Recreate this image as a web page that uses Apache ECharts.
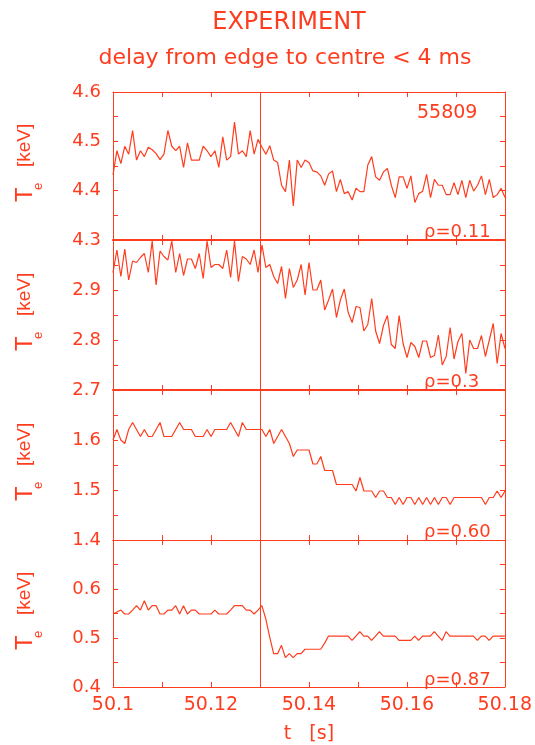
<!DOCTYPE html>
<html>
<head>
    <meta charset="utf-8">
    <title>EXPERIMENT - Te</title>
    <style>
        html, body { margin: 0; padding: 0; background: #fff; }
        #main { width: 535px; height: 745px; }
    </style>
</head>
<body>
<div id="main"></div>
<script src="https://cdn.jsdelivr.net/npm/echarts@6/dist/echarts.min.js"></script>
<script>
    // sampling of the ECE channels (s)
    var T0 = 50.1, DT = 0.0008;
    var X_MIN = 50.1, X_MAX = 50.18;
    var CRASH_T = 50.13;
    var SHOT = '55809';

    // Te [keV], one array per radius
    var te011 = [4.432,4.481,4.455,4.490,4.474,4.522,4.462,4.481,4.469,4.488,
        4.483,4.475,4.463,4.474,4.522,4.490,4.481,4.490,4.447,4.497,
        4.462,4.462,4.462,4.490,4.481,4.469,4.481,4.447,4.509,4.462,
        4.469,4.539,4.474,4.481,4.469,4.522,4.474,4.504,4.488,4.474,
        4.491,4.462,4.457,4.411,4.398,4.462,4.369,4.462,4.447,4.462,
        4.457,4.440,4.438,4.430,4.411,4.434,4.440,4.398,4.423,4.394,
        4.398,4.381,4.405,4.398,4.398,4.452,4.469,4.428,4.421,4.438,
        4.445,4.411,4.386,4.428,4.428,4.405,4.430,4.376,4.394,4.399,
        4.433,4.386,4.423,4.411,4.411,4.392,4.392,4.416,4.392,4.421,
        4.386,4.421,4.399,4.411,4.430,4.392,4.423,4.386,4.392,4.405,
        4.386];
    var te03 = [2.935,2.980,2.927,2.982,2.920,2.958,2.955,2.965,2.973,2.935,
        2.998,2.910,2.978,2.967,2.960,2.998,2.935,2.973,2.929,2.962,
        2.962,2.943,2.973,2.923,2.998,2.945,2.951,2.951,2.943,2.980,
        2.925,2.998,2.917,2.967,2.962,2.951,2.980,2.935,2.990,2.945,
        2.951,2.927,2.913,2.947,2.883,2.943,2.905,2.920,2.951,2.890,
        2.955,2.900,2.900,2.920,2.860,2.880,2.902,2.845,2.880,2.902,
        2.855,2.835,2.867,2.865,2.818,2.831,2.883,2.818,2.793,2.829,
        2.849,2.791,2.783,2.849,2.793,2.765,2.795,2.787,2.765,2.798,
        2.798,2.765,2.769,2.810,2.750,2.767,2.825,2.762,2.797,2.813,
        2.733,2.800,2.783,2.783,2.809,2.767,2.800,2.833,2.753,2.813,
        2.783];
    var te060 = [1.600,1.621,1.600,1.593,1.621,1.635,1.621,1.607,1.621,1.607,
        1.607,1.621,1.635,1.607,1.607,1.607,1.621,1.635,1.621,1.621,
        1.621,1.607,1.607,1.607,1.621,1.607,1.621,1.621,1.621,1.621,
        1.635,1.621,1.607,1.635,1.621,1.621,1.621,1.621,1.621,1.607,
        1.621,1.593,1.607,1.621,1.607,1.593,1.567,1.580,1.580,1.580,
        1.580,1.552,1.552,1.567,1.539,1.539,1.539,1.511,1.511,1.511,
        1.511,1.511,1.498,1.525,1.498,1.498,1.498,1.485,1.498,1.498,
        1.485,1.485,1.471,1.485,1.471,1.485,1.485,1.471,1.485,1.471,
        1.485,1.471,1.485,1.471,1.485,1.485,1.471,1.485,1.485,1.485,
        1.485,1.485,1.485,1.485,1.485,1.471,1.485,1.485,1.498,1.485,
        1.498];
    var te087 = [0.549,0.553,0.557,0.549,0.549,0.557,0.566,0.557,0.576,0.557,
        0.566,0.566,0.549,0.549,0.557,0.557,0.566,0.549,0.566,0.549,
        0.557,0.557,0.549,0.549,0.549,0.549,0.557,0.549,0.549,0.549,
        0.557,0.566,0.566,0.566,0.557,0.557,0.549,0.557,0.566,0.539,
        0.502,0.468,0.468,0.485,0.460,0.468,0.460,0.468,0.468,0.477,
        0.477,0.477,0.477,0.477,0.489,0.504,0.504,0.504,0.504,0.504,
        0.504,0.495,0.504,0.513,0.504,0.504,0.495,0.504,0.513,0.504,
        0.504,0.504,0.504,0.495,0.495,0.495,0.495,0.504,0.495,0.504,
        0.504,0.504,0.513,0.504,0.495,0.513,0.504,0.504,0.504,0.504,
        0.504,0.504,0.504,0.495,0.504,0.504,0.495,0.504,0.504,0.504,
        0.504];

    var panelData = [te011, te03, te060, te087];
    var rhoLabels = ['\u03c1=0.11', '\u03c1=0.3', '\u03c1=0.60', '\u03c1=0.87'];
    var yRanges = [[4.3, 4.6], [2.7, 3.0], [1.4, 1.7], [0.4, 0.7]];

    var RED = '#ff3c1e';
    var FONT = '"DejaVu Sans", sans-serif';
    var NAMEFONT = '"Liberation Sans", Arial, sans-serif';

    var grids = [
        {left: 113, right: 30, top: 92, height: 148},
        {left: 113, right: 30, top: 240, height: 150},
        {left: 113, right: 30, top: 390, height: 150},
        {left: 113, right: 30, top: 540, height: 148}
    ];

    function xAxisFor(g, pos, showLabel) {
        // the joins between panel 1/2 and 2/3 look doubled in the original
        var w = (pos === 'bottom' && g < 2) ? 2 : 1;
        return {
            type: 'value', gridIndex: g, position: pos,
            min: X_MIN, max: X_MAX, interval: 0.01,
            axisLine: {show: true, onZero: false, lineStyle: {color: RED, width: w}},
            axisTick: {show: true, inside: true, length: 5, lineStyle: {color: RED}},
            axisLabel: {
                show: showLabel, color: RED, fontFamily: FONT, fontSize: 19, margin: 9,
                formatter: function (v) {
                    var k = Math.round(v * 100);
                    return k % 2 === 0 ? String(k / 100) : '';
                }
            },
            splitLine: {show: false},
            name: showLabel ? 't   [s]' : '',
            nameLocation: 'middle', nameGap: 38,
            nameTextStyle: {color: RED, fontFamily: FONT, fontSize: 19}
        };
    }

    function yAxisFor(g, pos, showLabel) {
        var r = yRanges[g];
        return {
            type: 'value', gridIndex: g, position: pos,
            min: r[0], max: r[1], interval: 0.05,
            axisLine: {show: true, onZero: false, lineStyle: {color: RED, width: 1}},
            axisTick: {show: true, inside: true, length: 5, lineStyle: {color: RED}},
            axisLabel: {
                show: showLabel, color: RED, fontFamily: FONT, fontSize: 18, margin: 12,
                formatter: function (v) {
                    var k = Math.round(v * 100);
                    if (k % 10 !== 0) return '';
                    if (g > 0 && Math.abs(v - r[1]) < 1e-6) return '';
                    return (k / 100).toFixed(1);
                }
            },
            splitLine: {show: false}
        };
    }

    var xAxes = [], yAxes = [], series = [], graphics = [];
    for (var g = 0; g < 4; g++) xAxes.push(xAxisFor(g, 'bottom', g === 3));
    for (g = 0; g < 4; g++) xAxes.push(xAxisFor(g, 'top', false));
    for (g = 0; g < 4; g++) yAxes.push(yAxisFor(g, 'left', true));
    for (g = 0; g < 4; g++) yAxes.push(yAxisFor(g, 'right', false));

    for (g = 0; g < 4; g++) {
        var vals = panelData[g];
        var pts = vals.map(function (v, i) {
            return [+(T0 + i * DT).toFixed(4), v];
        });
        series.push({
            type: 'line', xAxisIndex: g, yAxisIndex: g,
            data: pts, symbol: 'none', showSymbol: false,
            lineStyle: {color: RED, width: 1.2},
            animation: false,
            markLine: {
                silent: true, symbol: ['none', 'none'], animation: false,
                label: {show: false},
                lineStyle: {color: RED, width: 1, type: 'solid'},
                data: [{xAxis: CRASH_T}]
            }
        });

        // y axis name, T_e [keV], rotated
        var cy = grids[g].top + grids[g].height / 2 - 3;
        graphics.push({
            type: 'group', x: 25, y: cy, rotation: Math.PI / 2,
            children: [
                {type: 'text', x: -39, y: 0, style: {text: 'T', font: '24px ' + NAMEFONT, fill: RED, align: 'left', verticalAlign: 'middle'}},
                {type: 'text', x: -27, y: 13, style: {text: 'e', font: '13px ' + NAMEFONT, fill: RED, align: 'left', verticalAlign: 'middle'}},
                {type: 'text', x: -4, y: 0, style: {text: '[keV]', font: '19px ' + NAMEFONT, fill: RED, align: 'left', verticalAlign: 'middle'}}
            ]
        });

        graphics.push({
            type: 'text', left: 424, top: grids[g].top + grids[g].height - 17,
            style: {text: rhoLabels[g], font: '18px ' + FONT, fill: RED}
        });
    }

    graphics.push({type: 'text', x: 289, y: 11, style: {text: 'EXPERIMENT', font: '24px ' + FONT, fill: RED, align: 'center', verticalAlign: 'top'}});
    graphics.push({type: 'text', x: 285, y: 47, style: {text: 'delay from edge to centre < 4 ms', font: '22px ' + FONT, fill: RED, align: 'center', verticalAlign: 'top'}});
    graphics.push({type: 'text', left: 417, top: 104, style: {text: SHOT, font: '19px ' + FONT, fill: RED}});

    var option = {
        backgroundColor: '#fff',
        animation: false,
        grid: grids,
        xAxis: xAxes,
        yAxis: yAxes,
        series: series,
        graphic: graphics
    };

    var chart = echarts.init(document.getElementById('main'));
    chart.setOption(option);
</script>
</body>
</html>
